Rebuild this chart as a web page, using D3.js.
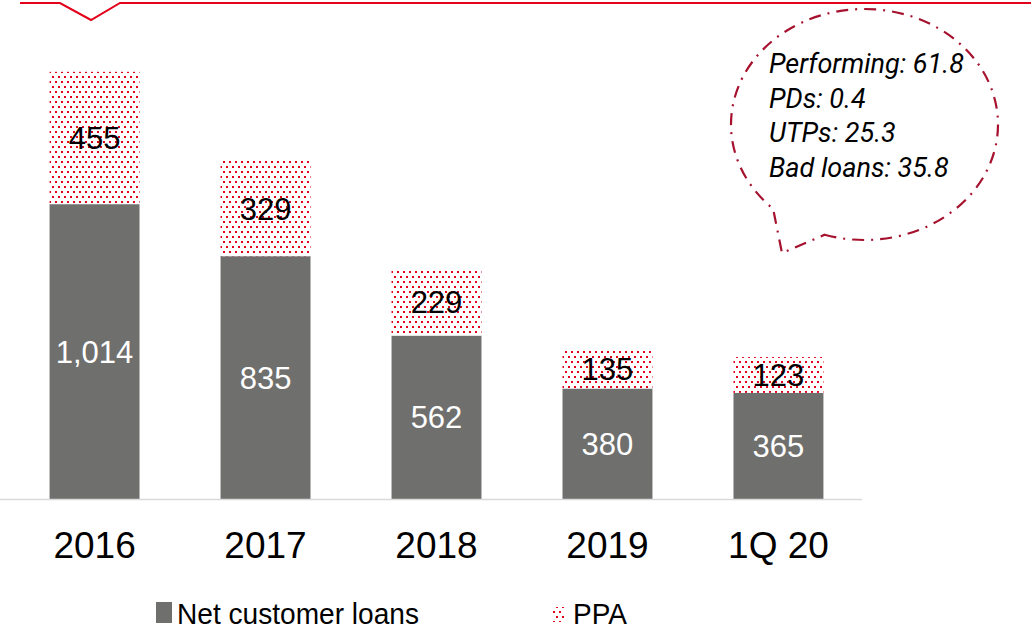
<!DOCTYPE html>
<html lang="en">
  <head>
    <meta charset="UTF-8" />
    <title>Net customer loans and PPA</title>
    <script src="https://d3js.org/d3.v7.min.js"></script>
    <style>
      body { margin: 0; background: #fff; }
      text { font-family: "Liberation Sans", Arial, sans-serif; }
      .note { font-family: Roboto, sans-serif; font-style: italic; font-size: 27px; }
    </style>
  </head>
  <body>
    <svg width="1031" height="630"></svg>
    <script>
      // data
      const periods = ["2016", "2017", "2018", "2019", "1Q 20"];
      const netLoans = [1014, 835, 562, 380, 365];
      const ppa = [455, 329, 229, 135, 123];
      const loanLabels = ["1,014", "835", "562", "380", "365"];
      const noteLines = ["Performing: 61.8", "PDs: 0.4", "UTPs: 25.3", "Bad loans: 35.8"];

      const svg = d3.select("svg");
      const grey = "#6f6f6e";
      const red = "#e2001a";

      // staggered dot pattern for PPA
      const pat = svg.append("defs").append("pattern")
        .attr("id", "dots").attr("patternUnits", "userSpaceOnUse")
        .attr("width", 6).attr("height", 10);
      pat.append("rect").attr("width", 6).attr("height", 10).attr("fill", "#fff");
      pat.append("rect").attr("x", 1).attr("y", 1).attr("width", 2).attr("height", 2).attr("fill", red);
      pat.append("rect").attr("x", 4).attr("y", 6).attr("width", 2).attr("height", 2).attr("fill", red);

      // top banner line
      svg.append("path")
        .attr("d", "M20,3 L60,3 L91,20 L120,3 L1031,3")
        .attr("fill", "none").attr("stroke", red).attr("stroke-width", 2);

      const x = d3.scaleBand().domain(periods).range([0, 873])
        .paddingInner(0.474).paddingOuter(0.29);
      const y = d3.scaleLinear().domain([0, 1716]).range([499, 0]);

      const rows = periods.map((p, i) => ({ p, loan: netLoans[i], ppa: ppa[i], lbl: loanLabels[i] }));

      const g = svg.append("g");

      // net customer loans
      g.selectAll(".loan").data(rows).enter().append("rect")
        .attr("x", d => x(d.p)).attr("width", x.bandwidth())
        .attr("y", d => y(d.loan)).attr("height", d => y(0) - y(d.loan))
        .attr("fill", grey);

      // PPA stacked on top
      g.selectAll(".ppa").data(rows).enter().append("rect")
        .attr("x", d => x(d.p)).attr("width", x.bandwidth())
        .attr("y", d => y(d.loan + d.ppa)).attr("height", d => y(d.loan) - y(d.loan + d.ppa))
        .attr("fill", "url(#dots)");

      // baseline
      svg.append("line").attr("x1", 0).attr("x2", 862).attr("y1", y(0) + 0.5).attr("y2", y(0) + 0.5)
        .attr("stroke", "#d9d9d9").attr("stroke-width", 1.5);

      // value labels
      g.selectAll(".lv").data(rows).enter().append("text")
        .attr("x", d => x(d.p) + x.bandwidth() / 2)
        .attr("y", d => y(d.loan / 2))
        .attr("dy", "0.36em").attr("text-anchor", "middle")
        .attr("font-size", 31).attr("fill", "#fff")
        .text(d => d.lbl);

      g.selectAll(".pv").data(rows).enter().append("text")
        .attr("x", d => x(d.p) + x.bandwidth() / 2)
        .attr("y", d => y(d.loan + d.ppa / 2))
        .attr("dy", "0.36em").attr("text-anchor", "middle")
        .attr("font-size", 31).attr("fill", "#000")
        .text(d => d3.format(",")(d.ppa));

      // category axis labels
      const xAxis = svg.append("g").attr("transform", `translate(0,${y(0)})`)
        .call(d3.axisBottom(x).tickSize(0).tickPadding(0));
      xAxis.select(".domain").remove();
      xAxis.selectAll("text").attr("font-size", 37).attr("fill", "#000")
        .attr("font-family", "'Liberation Sans', Arial, sans-serif")
        .attr("y", 59).attr("dy", 0);

      // legend
      const leg = svg.append("g");
      leg.append("rect").attr("x", 156).attr("y", 602).attr("width", 16).attr("height", 21).attr("fill", grey);
      leg.append("text").attr("x", 177).attr("y", 624)
        .attr("font-size", 30).attr("textLength", 242).attr("lengthAdjust", "spacingAndGlyphs")
        .text("Net customer loans");
      leg.append("rect").attr("x", 552).attr("y", 607).attr("width", 13).attr("height", 15).attr("fill", "url(#dots)");
      leg.append("text").attr("x", 573).attr("y", 624)
        .attr("font-size", 30).attr("textLength", 54).attr("lengthAdjust", "spacingAndGlyphs")
        .text("PPA");

      // callout bubble
      const cx = 864.5, cy = 124.5, rx = 133.5, ry = 115.5;
      const a1 = 2.325, a2 = 1.874; // angles where the tail leaves the ellipse
      const p1 = [cx + rx * Math.cos(a1), cy + ry * Math.sin(a1)];
      const p2 = [cx + rx * Math.cos(a2), cy + ry * Math.sin(a2)];
      svg.append("path")
        .attr("d", `M${p2[0]},${p2[1]} A${rx},${ry} 0 1 0 ${p1[0]},${p1[1]} L782,253 Z`)
        .attr("fill", "none").attr("stroke", "#a6112e").attr("stroke-width", 2.2)
        .attr("stroke-dasharray", "12,7,2,7");

      svg.append("g").selectAll("text").data(noteLines).enter().append("text")
        .attr("class", "note")
        .attr("x", 769).attr("y", (d, i) => 73 + i * 34.7)
        .text(d => d);
    </script>
  </body>
</html>
